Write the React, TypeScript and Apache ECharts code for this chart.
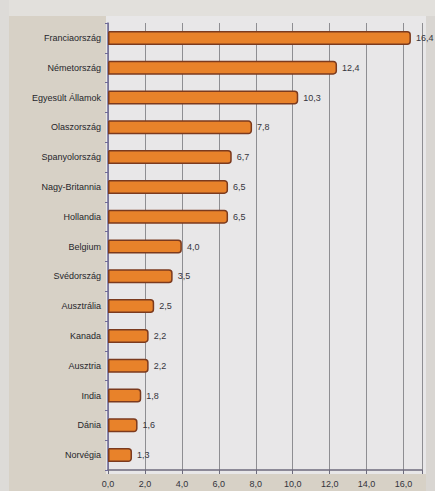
import React, { useEffect, useRef } from "react";
import * as echarts from "echarts";

const categories = [
  "Franciaország",
  "Németország",
  "Egyesült Államok",
  "Olaszország",
  "Spanyolország",
  "Nagy-Britannia",
  "Hollandia",
  "Belgium",
  "Svédország",
  "Ausztrália",
  "Kanada",
  "Ausztria",
  "India",
  "Dánia",
  "Norvégia",
];
const values = [16.4, 12.4, 10.3, 7.8, 6.7, 6.5, 6.5, 4.0, 3.5, 2.5, 2.2, 2.2, 1.8, 1.6, 1.3];

const fmt = (v: number) => v.toFixed(1).replace(".", ",");

export default function App() {
  const ref = useRef<HTMLDivElement>(null);
  useEffect(() => {
    if (!ref.current) return;
    const chart = echarts.init(ref.current, undefined, { renderer: "svg" });
    chart.setOption({
      animation: false,
      backgroundColor: "#d7d1c6",
      textStyle: { fontFamily: "Liberation Sans, Arial, sans-serif" },
      graphic: [
        { type: "rect", silent: true, z: -10, shape: { x: 0, y: 0, width: 435, height: 16 }, style: { fill: "#e2e0dc" } },
        { type: "rect", silent: true, z: -10, shape: { x: 0, y: 0, width: 9, height: 491 }, style: { fill: "#dddbd8" } },
        { type: "rect", silent: true, z: -10, shape: { x: 106, y: 16, width: 320, height: 458 }, style: { fill: "#e8e7e8" } },
        { type: "rect", silent: true, z: -10, shape: { x: 426, y: 16, width: 9, height: 475 }, style: { fill: "#d9d6d2" } },
      ],
      grid: { left: 108, right: 13, top: 23, bottom: 21, containLabel: false },
      xAxis: {
        type: "value",
        min: 0,
        max: 17,
        interval: 2,
        axisLine: { show: true, lineStyle: { color: "#6d6b7c", width: 1.5 } },
        axisTick: { show: true, length: 4, lineStyle: { color: "#6d6b7c" } },
        splitLine: { show: true, lineStyle: { color: "#8e8e92", width: 1 } },
        axisLabel: {
          fontSize: 9,
          color: "#33333c",
          margin: 9,
          formatter: (v: number) => (v % 2 === 0 ? fmt(v) : ""),
        },
      },
      yAxis: {
        type: "category",
        inverse: true,
        data: categories,
        axisLine: { show: true, lineStyle: { color: "#6f6a98", width: 1.5 } },
        axisTick: { show: true, length: 3, lineStyle: { color: "#6f6a98" } },
        axisLabel: { fontSize: 9, color: "#26262b", margin: 7 },
      },
      series: [
        {
          type: "bar",
          data: values,
          barWidth: 14,
          itemStyle: {
            color: "#e8822a",
            borderColor: "#7b3a1e",
            borderWidth: 1.5,
            borderRadius: [0, 3, 3, 0],
          },
          label: {
            show: true,
            position: "right",
            distance: 5,
            fontSize: 9,
            color: "#35353d",
            formatter: (p: any) => fmt(p.value),
          },
        },
      ],
    });
    return () => chart.dispose();
  }, []);
  return (
    <div
      ref={ref}
      style={{ position: "absolute", left: 0, top: 0, width: 435, height: 491 }}
    />
  );
}
